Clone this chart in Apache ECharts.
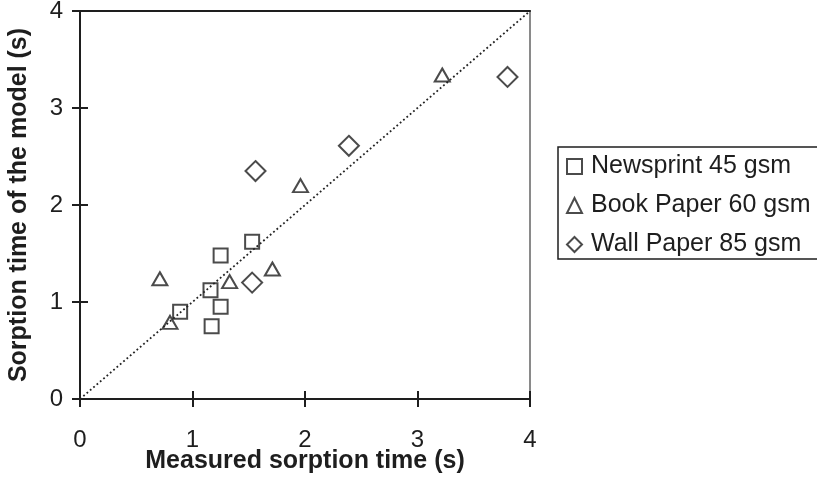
<!DOCTYPE html>
<html>
<head>
<meta charset="utf-8">
<script src="https://cdn.jsdelivr.net/npm/echarts@6/dist/echarts.min.js"></script>
<style>
  html, body { margin: 0; padding: 0; background: #fff; }
  #chart { width: 817px; height: 478px; }
</style>
</head>
<body>
<div id="chart"></div>
<script>
// data (measured, model) in seconds
var newsprint = [[0.89, 0.90], [1.16, 1.12], [1.25, 1.48], [1.53, 1.62], [1.25, 0.95], [1.17, 0.75]];
var bookPaper = [[0.71, 1.24], [0.80, 0.79], [1.33, 1.21], [1.71, 1.34], [1.96, 2.20], [3.22, 3.34]];
var wallPaper = [[1.56, 2.35], [2.39, 2.61], [3.80, 3.32], [1.53, 1.20]];
var diagonal = [[0, 0], [4, 4]];
var seriesNames = ['Newsprint 45 gsm', 'Book Paper 60 gsm', 'Wall Paper 85 gsm'];

var font = 'Liberation Sans, Arial, Helvetica, sans-serif';
var ink = '#1e1e1e';

var chart = echarts.init(document.getElementById('chart'));

function scatter(name, data, symbol, size) {
    return {
        name: name,
        type: 'scatter',
        data: data,
        symbol: symbol,
        symbolSize: size,
        xAxisIndex: 0,
        yAxisIndex: 0,
        itemStyle: {
            color: 'rgba(0,0,0,0)',
            borderColor: ink,
            borderWidth: 2
        },
        emphasis: { disabled: true }
    };
}

var option = {
    backgroundColor: '#fff',
    animation: false,
    grid: { left: 80, right: 287, top: 11, bottom: 79, outerBoundsMode: 'none' },
    legend: {
        orient: 'vertical',
        left: 558,
        top: 147,
        data: seriesNames,
        itemWidth: 15,
        itemHeight: 15,
        itemGap: 14,
        padding: [7, 40, 2, 8],
        borderColor: ink,
        borderWidth: 1.5,
        selectedMode: false,
        textStyle: { fontFamily: font, fontSize: 25, color: ink, padding: [0, 0, 0, 4] }
    },
    xAxis: [
        {
            type: 'value', position: 'bottom', min: 0, max: 4, interval: 1,
            name: 'Measured sorption time (s)', nameLocation: 'middle', nameGap: 50,
            nameMoveOverlap: false,
            nameTextStyle: { fontFamily: font, fontSize: 25, fontWeight: 'bold', color: ink },
            axisLine: { show: true, lineStyle: { color: ink, width: 2 } },
            axisTick: { show: true, length: 8, lineStyle: { color: ink, width: 2 } },
            axisLabel: { fontFamily: font, fontSize: 24, color: ink, margin: 29 },
            splitLine: { show: false }
        },
        {
            // inner half of the crossing ticks
            type: 'value', position: 'bottom', min: 0, max: 4, interval: 1,
            axisLine: { show: false },
            axisTick: { show: true, inside: true, length: 8, lineStyle: { color: ink, width: 2 } },
            axisLabel: { show: false },
            splitLine: { show: false }
        },
        {
            type: 'value', position: 'top', min: 0, max: 4,
            axisLine: { show: true, onZero: false, lineStyle: { color: ink, width: 2 } },
            axisTick: { show: false },
            axisLabel: { show: false },
            splitLine: { show: false }
        }
    ],
    yAxis: [
        {
            type: 'value', position: 'left', min: 0, max: 4, interval: 1,
            name: 'Sorption time of the model (s)', nameLocation: 'middle', nameGap: 48,
            nameMoveOverlap: false,
            nameTextStyle: { fontFamily: font, fontSize: 25, fontWeight: 'bold', color: ink },
            axisLine: { show: true, lineStyle: { color: ink, width: 2 } },
            axisTick: { show: true, length: 8, lineStyle: { color: ink, width: 2 } },
            axisLabel: { fontFamily: font, fontSize: 24, color: ink, margin: 17 },
            splitLine: { show: false }
        },
        {
            type: 'value', position: 'left', min: 0, max: 4, interval: 1,
            axisLine: { show: false },
            axisTick: { show: true, inside: true, length: 8, lineStyle: { color: ink, width: 2 } },
            axisLabel: { show: false },
            splitLine: { show: false }
        },
        {
            type: 'value', position: 'right', min: 0, max: 4,
            axisLine: { show: true, onZero: false, lineStyle: { color: '#8a8a8a', width: 2 } },
            axisTick: { show: false },
            axisLabel: { show: false },
            splitLine: { show: false }
        }
    ],
    series: [
        {
            name: '1:1',
            type: 'line',
            data: diagonal,
            xAxisIndex: 0,
            yAxisIndex: 0,
            symbol: 'none',
            lineStyle: { color: '#222', width: 1.8, type: [1.8, 2.6] },
            emphasis: { disabled: true }
        },
        scatter(seriesNames[0], newsprint, 'rect', 14),
        scatter(seriesNames[1], bookPaper, 'triangle', [15, 13]),
        scatter(seriesNames[2], wallPaper, 'diamond', 20)
    ]
};

chart.setOption(option);
</script>
</body>
</html>
